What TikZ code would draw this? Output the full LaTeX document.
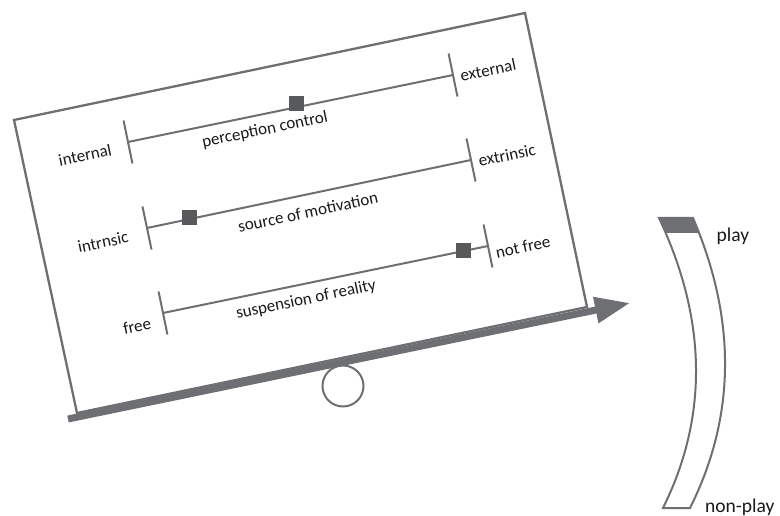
\documentclass[tikz,border=0pt]{standalone}
\usepackage{fontspec}
\setmainfont{Carlito}
\usetikzlibrary{arrows.meta,calc}

\definecolor{frameGray}{RGB}{110,111,114}
\definecolor{markGray}{RGB}{88,89,91}

\begin{document}
\begin{tikzpicture}[x=1pt,y=-1pt,
  frame/.style={draw=frameGray,line width=2.3pt,line join=miter},
  scaleline/.style={draw=frameGray,line width=2pt},
  tick/.style={draw=frameGray,line width=2pt},
  marker/.style={fill=markGray,draw=none,minimum size=15pt,inner sep=0pt},
  lbl/.style={font=\fontsize{17}{20}\selectfont,inner sep=0pt,rotate=11.8,text=black!90},
  endlbl/.style={font=\fontsize{19.5}{22}\selectfont,inner sep=0pt,text=black!90},
  beam/.style={draw=frameGray,line width=7pt,
    -{Triangle[length=35pt,width=25pt]}},
]
\useasboundingbox (0,0) rectangle (780,516);

% tilted board
\draw[frame] (14,120) -- (525,13) -- (587,307) -- (77,413) -- cycle;

% fulcrum and lever beam
\node[circle,draw=frameGray,line width=2pt,minimum size=41pt,inner sep=0pt] (pivot) at (343,386) {};
\coordinate (beamL) at (68,419);
\coordinate (beamR) at (630,303);
\draw[beam] (beamL) -- (beamR);

% scale 1: perception control
\coordinate (a1) at (128,142);
\coordinate (b1) at (453,75);
\draw[scaleline] (a1) -- (b1);
\draw[tick] ($(a1)!22pt!90:(b1)$) -- ($(a1)!22pt!-90:(b1)$);
\draw[tick] ($(b1)!22pt!90:(a1)$) -- ($(b1)!22pt!-90:(a1)$);
\node[marker] (m1) at (296,104) {};
\node[lbl] (l1) at (85,155) {internal};
\node[lbl] (t1) at (265,130) {perception control};
\node[lbl] (r1) at (488,70) {external};

% scale 2: source of motivation
\coordinate (a2) at (147,228);
\coordinate (b2) at (471,160);
\draw[scaleline] (a2) -- (b2);
\draw[tick] ($(a2)!22pt!90:(b2)$) -- ($(a2)!22pt!-90:(b2)$);
\draw[tick] ($(b2)!22pt!90:(a2)$) -- ($(b2)!22pt!-90:(a2)$);
\node[marker] (m2) at (189,218) {};
\node[lbl] (l2) at (103,242) {intrnsic};
\node[lbl] (t2) at (308,212) {source of motivation};
\node[lbl] (r2) at (507,155) {extrinsic};

% scale 3: suspension of reality
\coordinate (a3) at (163,313);
\coordinate (b3) at (488,246);
\draw[scaleline] (a3) -- (b3);
\draw[tick] ($(a3)!22pt!90:(b3)$) -- ($(a3)!22pt!-90:(b3)$);
\draw[tick] ($(b3)!22pt!90:(a3)$) -- ($(b3)!22pt!-90:(a3)$);
\node[marker] (m3) at (463,251) {};
\node[lbl] (l3) at (137,326) {free};
\node[lbl] (t3) at (306,300) {suspension of reality};
\node[lbl] (r3) at (523,247) {not free};

% curved play / non-play gauge
\def\gauge{(659,218) -- (693,218)
  .. controls (736.7,320) and (735.7,416.7) .. (690,508)
  -- (663,508)
  .. controls (708.3,416.7) and (707,320) .. cycle}
\begin{scope}
  \clip \gauge;
  \fill[frameGray] (640,210) rectangle (740,233);
\end{scope}
\draw[frameGray,line width=2pt,line join=miter] \gauge;
\node[endlbl] (play) at (733,236) {play};
\node[endlbl,anchor=west] (nonplay) at (705,507) {non-play};
\end{tikzpicture}
\end{document}
